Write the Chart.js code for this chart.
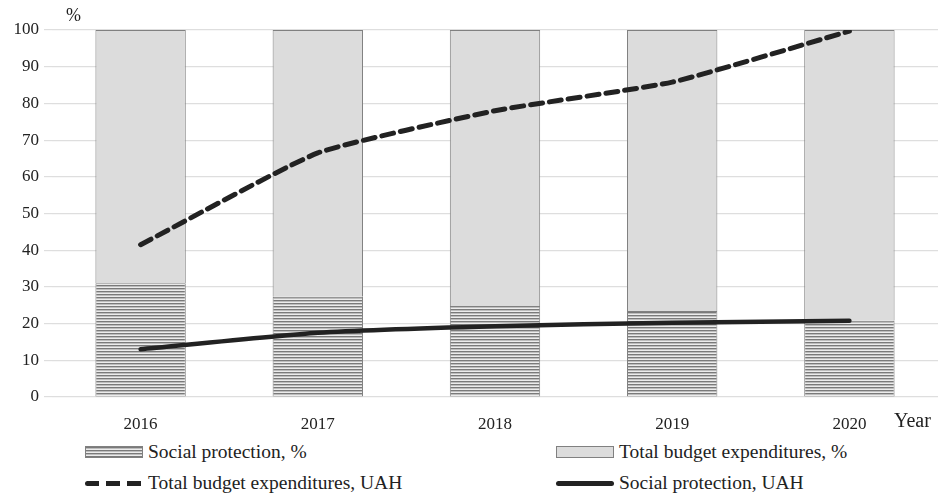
<!DOCTYPE html>
<html>
<head>
<meta charset="utf-8">
<script src="https://cdn.jsdelivr.net/npm/chart.js@4.4.1/dist/chart.umd.min.js"></script>
<style>
  body { margin: 0; background: #fff; font-family: "Liberation Serif", "DejaVu Serif", serif; }
  #wrap { position: relative; width: 941px; height: 498px; }
  #chart { position: absolute; left: 0; top: 0; }
  .leg { position: absolute; font-size: 19.5px; color: #222; display: flex; align-items: center; white-space: nowrap; }
  .sw { width: 58px; height: 12px; margin-right: 5px; box-sizing: border-box; }
  .hatch { border: 1px solid #808080; background: repeating-linear-gradient(to bottom, #7a7a7a 0, #7a7a7a 1px, #bdbdbd 1px, #bdbdbd 2px, #ececec 2px, #ececec 3px); }
  .gray { border: 1px solid #808080; background: #dcdcdc; }
  .dash { height: 5px; background: repeating-linear-gradient(to right, #222 0, #222 14px, transparent 14px, transparent 21px); border-radius: 3px; }
  .solid { height: 5px; background: #222; border-radius: 3px; }
</style>
</head>
<body>
<div id="wrap">
  <canvas id="chart" width="941" height="440"></canvas>
  <div class="leg" style="left:85px; top:441px;"><div class="sw hatch"></div>Social protection, %</div>
  <div class="leg" style="left:556px; top:441px;"><div class="sw gray"></div>Total budget expenditures, %</div>
  <div class="leg" style="left:85px; top:472px;"><div class="sw dash"></div>Total budget expenditures, UAH</div>
  <div class="leg" style="left:556px; top:472px;"><div class="sw solid"></div>Social protection, UAH</div>
</div>
<script>
const years = ['2016', '2017', '2018', '2019', '2020'];
const socialPct = [31, 27.3, 24.8, 23.4, 20.8];
const totalPct = [69, 72.7, 75.2, 76.6, 79.2];
const totalUAH = [41.5, 66.5, 78, 85.8, 99.7];
const socialUAH = [13, 17.5, 19.3, 20.2, 20.8];
const yTicks = [0, 10, 20, 30, 40, 50, 60, 70, 80, 90, 100];

function hatchPattern() {
    const c = document.createElement('canvas');
    c.width = 4;
    c.height = 3;
    const g = c.getContext('2d');
    g.fillStyle = '#ececec';
    g.fillRect(0, 0, 4, 3);
    g.fillStyle = '#7a7a7a';
    g.fillRect(0, 0, 4, 1);
    g.fillStyle = '#bdbdbd';
    g.fillRect(0, 1, 4, 1);
    return g.createPattern(c, 'repeat');
}

const extraText = {
    id: 'extraText',
    afterDraw(chart) {
        const ctx = chart.ctx;
        ctx.save();
        ctx.fillStyle = '#222';
        ctx.font = '18px "Liberation Serif"';
        ctx.textBaseline = 'middle';
        ctx.fillText('%', 66, 16);
        ctx.font = '20px "Liberation Serif"';
        ctx.fillText('Year', 894, chart.chartArea.bottom + 25);
        ctx.restore();
    }
};

const ctx = document.getElementById('chart').getContext('2d');
new Chart(ctx, {
    type: 'bar',
    data: {
        labels: years,
        datasets: [
            {
                label: 'Social protection, %',
                data: socialPct,
                backgroundColor: hatchPattern(),
                borderColor: '#808080',
                borderWidth: 1,
                stack: 'bars',
                order: 2,
                categoryPercentage: 0.51,
                barPercentage: 1
            },
            {
                label: 'Total budget expenditures, %',
                data: totalPct,
                backgroundColor: '#dcdcdc',
                borderColor: '#808080',
                borderWidth: 1,
                stack: 'bars',
                order: 2,
                categoryPercentage: 0.51,
                barPercentage: 1
            },
            {
                type: 'line',
                label: 'Total budget expenditures, UAH',
                data: totalUAH,
                borderColor: '#222',
                borderWidth: 5,
                borderDash: [12, 7],
                borderCapStyle: 'round',
                tension: 0.15,
                pointRadius: 0,
                fill: false,
                stack: 'l1',
                order: 1
            },
            {
                type: 'line',
                label: 'Social protection, UAH',
                data: socialUAH,
                borderColor: '#222',
                borderWidth: 4.5,
                borderCapStyle: 'round',
                tension: 0.2,
                pointRadius: 0,
                fill: false,
                stack: 'l2',
                order: 1
            }
        ]
    },
    options: {
        responsive: false,
        animation: false,
        layout: { padding: { top: 30, right: 3, left: 0, bottom: 0 } },
        plugins: {
            legend: { display: false },
            tooltip: { enabled: false }
        },
        scales: {
            x: {
                stacked: true,
                grid: { display: false },
                border: { display: false },
                ticks: { color: '#222', font: { family: 'Liberation Serif', size: 17 }, padding: 9 },
                afterFit(scale) { scale.height = 43; }
            },
            y: {
                stacked: true,
                min: 0,
                max: 100,
                afterBuildTicks(scale) { scale.ticks = yTicks.map(v => ({ value: v })); },
                grid: { color: '#dedede', lineWidth: 1.2, tickLength: 8 },
                border: { display: false },
                ticks: { color: '#222', font: { family: 'Liberation Serif', size: 17 }, padding: 5 },
                afterFit(scale) { scale.width = 52; }
            }
        }
    },
    plugins: [extraText]
});
</script>
</body>
</html>
